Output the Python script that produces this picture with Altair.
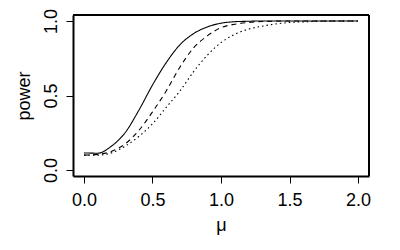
import altair as alt
import pandas as pd

mu = [0.0, 0.1, 0.2, 0.3, 0.4, 0.5, 0.6, 0.7, 0.8, 0.9, 1.0,
      1.1, 1.2, 1.3, 1.4, 1.5, 1.6, 1.7, 1.8, 1.9, 2.0]
solid = [0.115, 0.113, 0.16, 0.25, 0.40, 0.57, 0.72, 0.84, 0.915, 0.96, 0.985,
         0.995, 0.998, 1.0, 1.0, 1.0, 1.0, 1.0, 1.0, 1.0, 1.0]
dashed = [0.10, 0.105, 0.125, 0.175, 0.265, 0.39, 0.53, 0.69, 0.82, 0.90, 0.955,
          0.978, 0.99, 0.996, 0.999, 1.0, 1.0, 1.0, 1.0, 1.0, 1.0]
dotted = [0.10, 0.10, 0.115, 0.16, 0.225, 0.31, 0.42, 0.53, 0.66, 0.77, 0.855,
          0.91, 0.945, 0.965, 0.98, 0.99, 0.994, 0.997, 0.999, 1.0, 1.0]

rows = []
for name, vals in [("solid", solid), ("dashed", dashed), ("dotted", dotted)]:
    for m, v in zip(mu, vals):
        rows.append({"mu": m, "power": v, "series": name})
df = pd.DataFrame(rows)

font = "Liberation Sans"
W, H = 296, 161

x = alt.X("mu:Q", title="μ",
          scale=alt.Scale(domain=[-0.08, 2.08], nice=False, zero=False),
          axis=alt.Axis(values=[0, 0.5, 1.0, 1.5, 2.0], format=".1f", grid=False,
                        domain=True, domainColor="black", domainWidth=2,
                        tickSize=7, tickColor="black",
                        labelFontSize=18, labelColor="black", labelFont=font,
                        labelPadding=8, titleFontSize=18, titleFont=font,
                        titleFontWeight="normal", titleColor="black", titlePadding=7))
y = alt.Y("power:Q", title="power",
          scale=alt.Scale(domain=[-0.04, 1.04], nice=False, zero=False),
          axis=alt.Axis(values=[0, 0.5, 1.0], format=".1f", grid=False,
                        domain=True, domainColor="black", domainWidth=2,
                        tickSize=7, tickColor="black",
                        labelAngle=270, labelAlign="center", labelBaseline="bottom",
                        labelFontSize=18, labelColor="black", labelFont=font,
                        labelPadding=6, titleFontSize=18, titleFont=font,
                        titleFontWeight="normal", titleColor="black", titlePadding=9))

lines = alt.Chart(df).mark_line(color="black", strokeWidth=1.1, interpolate="monotone").encode(
    x=x, y=y,
    detail="series:N",
    strokeDash=alt.StrokeDash("series:N",
                              scale=alt.Scale(domain=["solid", "dashed", "dotted"],
                                              range=[[1, 0], [5, 4], [1.5, 3]]),
                              legend=None),
)

one = pd.DataFrame({"a": [0]})
rule = dict(color="black", strokeWidth=2)
top = alt.Chart(one).mark_rule(**rule).encode(x=alt.value(0), x2=alt.value(W), y=alt.value(0))
right = alt.Chart(one).mark_rule(**rule).encode(x=alt.value(W), y=alt.value(0), y2=alt.value(H))

chart = alt.layer(lines, top, right).properties(
    width=W, height=H,
    background="white",
    autosize=alt.AutoSizeParams(type="none"),
    padding={"left": 65, "top": 7, "right": 20, "bottom": 60},
)

chart.save("out.html", embed_options={"renderer": "svg", "actions": False})
